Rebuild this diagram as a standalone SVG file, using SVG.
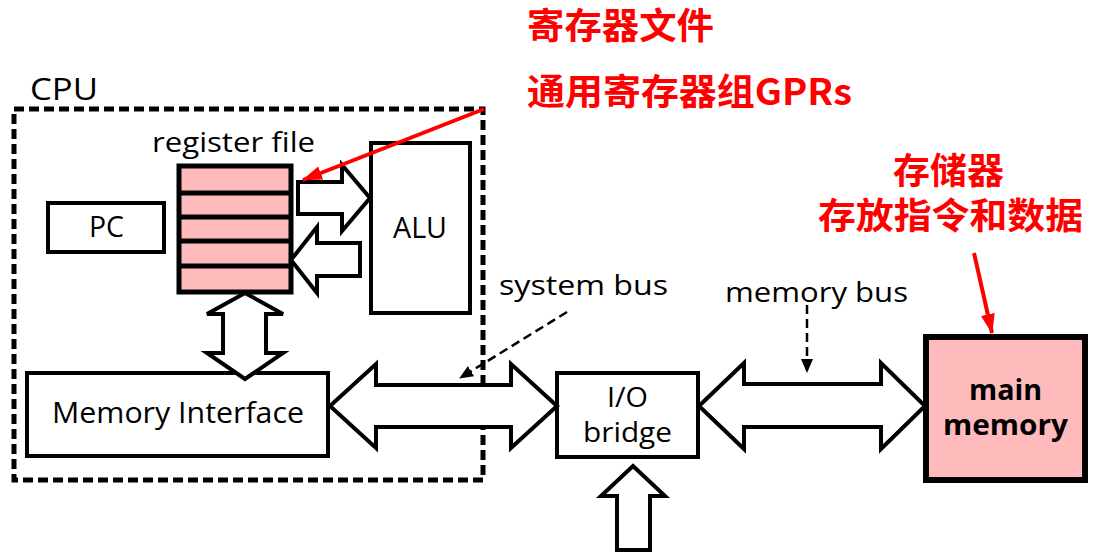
<svg xmlns="http://www.w3.org/2000/svg" width="1108" height="557" viewBox="0 0 1108 557">
<defs>
<style>
.box{fill:#fff;stroke:#000;stroke-width:4}
.pink{fill:#FFBBBB;stroke:#000}
.big{fill:#fff;stroke:#000;stroke-width:4;stroke-linejoin:miter}
.t{font-family:"Open Sans","Noto Sans",sans-serif;fill:#000}
.b{font-family:"Open Sans","Noto Sans",sans-serif;font-weight:bold;fill:#000}
.red{font-family:"Noto Sans CJK SC","Noto Sans",sans-serif;font-weight:bold;fill:#FF0000;font-size:36px}
.dash{stroke:#000;stroke-width:2.5;stroke-dasharray:9 5;fill:none}
.rl{stroke:#FF0000;stroke-width:4;fill:none}
</style>
<marker id="ra" markerUnits="userSpaceOnUse" markerWidth="20" markerHeight="16" viewBox="0 0 20 16" refX="19" refY="8" orient="auto">
<path d="M0,1 L20,8 L0,15 Z" fill="#FF0000"/>
</marker>
<marker id="ka" markerUnits="userSpaceOnUse" markerWidth="14" markerHeight="12" viewBox="0 0 14 12" refX="13" refY="6" orient="auto">
<path d="M0,0 L14,6 L0,12 Z" fill="#000"/>
</marker>
</defs>
<rect width="1108" height="557" fill="#fff"/>

<g id="cpu">
<rect x="14" y="109" width="469" height="371" fill="none" stroke="#000" stroke-width="5" stroke-dasharray="10 5"/>
<text class="t" x="30" y="100" font-size="31" textLength="68" lengthAdjust="spacingAndGlyphs">CPU</text>
</g>

<g id="register-file">
<rect class="pink" x="179" y="166" width="112" height="126" stroke-width="5"/>
<g stroke="#000" stroke-width="5">
<line x1="179" y1="193" x2="291" y2="193"/>
<line x1="179" y1="217" x2="291" y2="217"/>
<line x1="179" y1="241" x2="291" y2="241"/>
<line x1="179" y1="266" x2="291" y2="266"/>
</g>
<text class="t" x="152" y="152" font-size="27" textLength="163" lengthAdjust="spacingAndGlyphs">register file</text>
</g>

<g id="pc">
<rect class="box" x="48" y="203" width="116" height="49"/>
<text class="t" x="89" y="237" font-size="30" textLength="35" lengthAdjust="spacingAndGlyphs">PC</text>
</g>

<g id="alu">
<rect class="box" x="371" y="143" width="99" height="170"/>
<text class="t" x="393" y="238" font-size="29" textLength="54" lengthAdjust="spacingAndGlyphs">ALU</text>
</g>

<g id="memory-interface">
<rect class="box" x="27" y="373" width="301" height="83"/>
<text class="t" x="52" y="423" font-size="29" textLength="252" lengthAdjust="spacingAndGlyphs">Memory Interface</text>
</g>

<g id="io-bridge">
<rect class="box" x="557" y="373" width="141" height="84"/>
<text class="t" x="607" y="407" font-size="28" textLength="41" lengthAdjust="spacingAndGlyphs">I/O</text>
<text class="t" x="583" y="442" font-size="28" textLength="89" lengthAdjust="spacingAndGlyphs">bridge</text>
</g>

<g id="main-memory">
<rect class="pink" x="926" y="337" width="159" height="143" stroke-width="6"/>
<text class="b" x="969" y="400" font-size="28" textLength="73" lengthAdjust="spacingAndGlyphs">main</text>
<text class="b" x="943" y="435" font-size="28" textLength="125" lengthAdjust="spacingAndGlyphs">memory</text>
</g>

<g id="labels">
<text class="t" x="499" y="295" font-size="27" textLength="169" lengthAdjust="spacingAndGlyphs">system bus</text>
<text class="t" x="725" y="302" font-size="27" textLength="183" lengthAdjust="spacingAndGlyphs">memory bus</text>
<text class="red" x="527" y="39" textLength="187" lengthAdjust="spacingAndGlyphs">寄存器文件</text>
<text class="red" x="527" y="105" textLength="325" lengthAdjust="spacingAndGlyphs">通用寄存器组GPRs</text>
<text class="red" x="893" y="184" textLength="111" lengthAdjust="spacingAndGlyphs">存储器</text>
<text class="red" x="818" y="229" textLength="265" lengthAdjust="spacingAndGlyphs">存放指令和数据</text>
</g>

<g id="connectors">
<polygon class="big" points="298,182 342,182 342,165 370,198 342,231 342,214 298,214"/>
<polygon class="big" points="360,243 317,243 317,227 291,260 317,293 317,276 360,276"/>
<polygon class="big" points="245,293 283,314 266,314 266,353 283,353 245,379 207,353 223,353 223,314 207,314"/>
<polygon class="big" points="330,406 376,364 376,385 511,385 511,364 557,406 511,448 511,427 376,427 376,448"/>
<polygon class="big" points="699,406 744,363 744,384 881,384 881,363 925,406 881,449 881,427 744,427 744,449"/>
<polygon class="big" points="633,466 665,496 650,496 650,550 617,550 617,496 601,496"/>
<line class="dash" x1="567" y1="312" x2="460" y2="378" marker-end="url(#ka)"/>
<line class="dash" x1="807" y1="305" x2="807" y2="372" marker-end="url(#ka)"/>
<line class="rl" x1="484" y1="109" x2="303" y2="180" marker-end="url(#ra)"/>
<line class="rl" x1="974" y1="253" x2="992" y2="333" marker-end="url(#ra)"/>
</g>
</svg>
